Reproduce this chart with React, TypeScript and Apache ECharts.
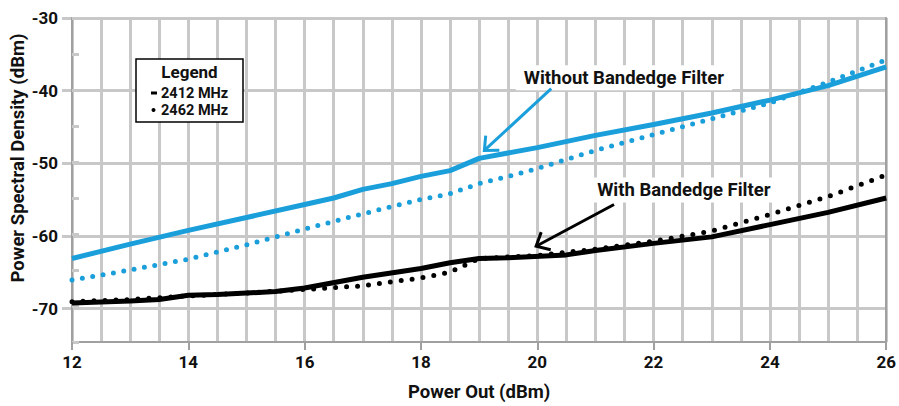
import React, { useEffect, useRef } from "react";
import * as echarts from "echarts";

const BLUE = "#1a9fdb";
const GRID_GRAY = "#c8c8c8";
const AXIS_GRAY = "#a0a0a0";
const FONT = "Roboto";

// Power Out (dBm) vs Power Spectral Density (dBm)
const without2412: [number, number][] = [
  [12, -63.4], [13, -61.4], [14, -59.5], [15, -57.7], [16, -55.9], [16.5, -55.0],
  [17, -53.8], [17.5, -53.0], [18, -52.0], [18.5, -51.2], [19, -49.5], [20, -48.0],
  [21, -46.3], [22, -44.8], [23, -43.2], [24, -41.4], [25, -39.4], [26, -36.8],
];
const without2462: [number, number][] = [
  [12, -66.4], [13, -65.0], [14, -63.5], [15, -61.5], [16, -59.3], [17, -57.2],
  [18, -55.2], [18.5, -54.4], [19, -53.0], [19.5, -52.0], [20, -50.9], [21, -48.4],
  [22, -46.2], [23, -44.0], [24, -41.8], [25, -38.9], [26, -35.8],
];
const with2412: [number, number][] = [
  [12, -69.6], [13, -69.3], [13.5, -69.1], [14, -68.5], [14.5, -68.4], [15.5, -68.0],
  [16, -67.5], [17, -66.0], [18, -64.8], [18.5, -64.0], [19, -63.4], [19.5, -63.3],
  [20.5, -62.9], [21, -62.3], [22, -61.3], [23, -60.4], [24, -58.7], [25, -57.0], [26, -55.0],
];
const with2462: [number, number][] = [
  [12, -69.4], [13, -69.1], [14, -68.6], [15, -68.2], [16, -67.7], [17, -67.2],
  [18, -66.1], [18.5, -65.3], [19, -63.4], [20, -63.0], [21, -62.1], [22, -61.0],
  [23, -59.6], [24, -57.3], [25, -54.8], [26, -51.8],
];

const legendItems = ["2412 MHz", "2462 MHz"];

// annotation anchors in data coordinates
const annotations = [
  { label: "Without Bandedge Filter", text: [21.49, -38.3], from: [20.24, -39.8], to: [19.09, -48.4], color: BLUE },
  { label: "With Bandedge Filter", text: [22.52, -53.9], from: [21.32, -55.9], to: [19.98, -61.7], color: "#000" },
];

export default function App() {
  const ref = useRef<HTMLDivElement>(null);
  useEffect(() => {
    document.body.style.margin = "0";
    const chart = echarts.init(ref.current!, undefined, { renderer: "svg" });
    const labelStyle = { fontFamily: FONT, fontSize: 17, fontWeight: "bold" as const, color: "#111" };
    const top = 18;
    const bottom = 61;
    const h = 406 - top - bottom;
    const option: any = {
      animation: false,
      backgroundColor: "#fff",
      grid: [
        { left: 72, right: 12, top, bottom },
        { left: 72, right: 12, top, height: (h * 40) / 45 },
      ],
      xAxis: [
        {
          gridIndex: 0, type: "value", min: 12, max: 26, interval: 2,
          axisLine: { show: true, lineStyle: { color: AXIS_GRAY, width: 2 } },
          axisTick: { show: true, length: 8, lineStyle: { color: AXIS_GRAY, width: 2 } },
          axisLabel: { ...labelStyle, margin: 11 },
          splitLine: { show: true, lineStyle: { color: GRID_GRAY, width: 3 } },
          minorTick: { show: false, splitNumber: 4 },
          minorSplitLine: { show: true, lineStyle: { color: GRID_GRAY, width: 3 } },
          name: "Power Out (dBm)", nameLocation: "middle", nameGap: 40,
          nameTextStyle: { ...labelStyle, fontSize: 18.5 },
          z: 3,
        },
        { gridIndex: 1, type: "value", min: 12, max: 26, show: false },
      ],
      yAxis: [
        {
          gridIndex: 0, type: "value", min: -75, max: -30, interval: 5,
          axisLine: { show: true, lineStyle: { color: AXIS_GRAY, width: 2 } },
          axisTick: { show: true, inside: true, length: 7, lineStyle: { color: GRID_GRAY, width: 3 } },
          axisLabel: { show: false },
          splitLine: { show: false },
          z: 3,
        },
        {
          gridIndex: 1, type: "value", min: -70, max: -30, interval: 10,
          axisLine: { show: false },
          axisTick: { show: true, length: 10, lineStyle: { color: GRID_GRAY, width: 3 } },
          axisLabel: { ...labelStyle, margin: 14 },
          splitLine: { show: true, lineStyle: { color: GRID_GRAY, width: 3 } },
        },
        {
          gridIndex: 0, type: "value", min: -75, max: -30, position: "right",
          axisLine: { show: true, lineStyle: { color: AXIS_GRAY, width: 2 } },
          axisTick: { show: false }, axisLabel: { show: false }, splitLine: { show: false },
          z: 3,
        },
      ],
      series: [
        {
          name: "Without 2462", type: "line", data: without2462, symbol: "none", z: 4,
          lineStyle: { color: BLUE, width: 5, type: [0, 10.5], cap: "round" },
        },
        {
          name: "Without 2412", type: "line", data: without2412, symbol: "none", z: 5,
          lineStyle: { color: BLUE, width: 5 },
        },
        {
          name: "With 2462", type: "line", data: with2462, symbol: "none", z: 4,
          lineStyle: { color: "#000", width: 5, type: [0, 11], cap: "round" },
        },
        {
          name: "With 2412", type: "line", data: with2412, symbol: "none", z: 5,
          lineStyle: { color: "#000", width: 5 },
        },
      ],
    };
    chart.setOption(option);

    const graphic: any[] = [];
    annotations.forEach((a) => {
      const t = chart.convertToPixel({ gridIndex: 0 }, a.text) as number[];
      const f = chart.convertToPixel({ gridIndex: 0 }, a.from) as number[];
      const p = chart.convertToPixel({ gridIndex: 0 }, a.to) as number[];
      const dx = f[0] - p[0];
      const dy = f[1] - p[1];
      const len = Math.hypot(dx, dy);
      const ux = dx / len;
      const uy = dy / len;
      const ang = (42 * Math.PI) / 180;
      const arm = 15;
      const rot = (s: number) => [
        p[0] + arm * (ux * Math.cos(s * ang) - uy * Math.sin(s * ang)),
        p[1] + arm * (ux * Math.sin(s * ang) + uy * Math.cos(s * ang)),
      ];
      graphic.push({
        type: "text", z: 100, x: t[0], y: t[1],
        style: {
          text: a.label, fill: "#111", font: `bold 18.5px ${FONT}`, align: "center",
          verticalAlign: "middle", backgroundColor: "#fff", padding: [3, 8],
        },
      });
      graphic.push({
        type: "line", z: 100,
        shape: { x1: f[0], y1: f[1], x2: p[0] + ux * 1.5, y2: p[1] + uy * 1.5 },
        style: { stroke: a.color, lineWidth: 3 },
      });
      graphic.push({
        type: "polyline", z: 100,
        shape: { points: [rot(1), p, rot(-1)] },
        style: { stroke: a.color, lineWidth: 3, fill: null, lineJoin: "miter" },
      });
    });

    // legend box
    graphic.push({
      type: "rect", z: 100, shape: { x: 136, y: 59, width: 107, height: 63 },
      style: { fill: "#fff", stroke: "#000", lineWidth: 1.5 },
    });
    graphic.push({
      type: "text", z: 101, x: 189.5, y: 72,
      style: { text: "Legend", fill: "#111", font: `bold 17px ${FONT}`, align: "center", verticalAlign: "middle" },
    });
    graphic.push({ type: "rect", z: 101, shape: { x: 151, y: 91.5, width: 6, height: 3 }, style: { fill: "#000" } });
    graphic.push({ type: "circle", z: 101, shape: { cx: 153.5, cy: 110, r: 2 }, style: { fill: "#000" } });
    legendItems.forEach((name, i) => {
      graphic.push({
        type: "text", z: 101, x: 161, y: 93 + i * 17.5,
        style: { text: name, fill: "#111", font: `bold 14.5px ${FONT}`, align: "left", verticalAlign: "middle" },
      });
    });

    // y-axis title
    graphic.push({
      type: "text", z: 101, x: 18, y: 158, rotation: Math.PI / 2,
      style: {
        text: "Power Spectral Density (dBm)", fill: "#111", font: `bold 18.5px ${FONT}`,
        align: "center", verticalAlign: "middle",
      },
    });

    chart.setOption({ graphic });
    return () => chart.dispose();
  }, []);
  return <div ref={ref} style={{ width: 899, height: 406 }} />;
}
